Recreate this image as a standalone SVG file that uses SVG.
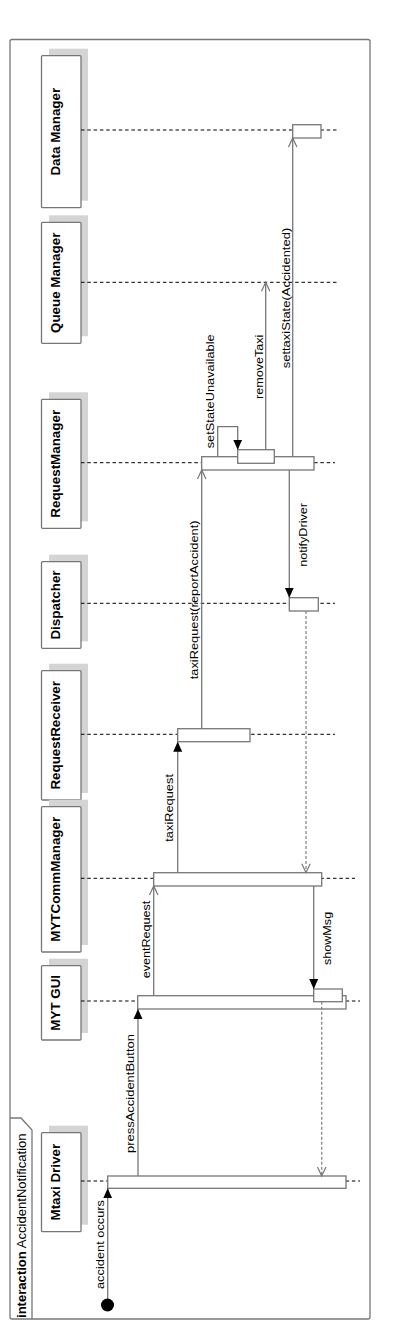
<svg xmlns="http://www.w3.org/2000/svg" width="410" height="1330" viewBox="0 0 410 1330">
<style>
  .frame{fill:#fff;stroke:#777;stroke-width:1.3}
  .head{fill:#fff;stroke:#777;stroke-width:1.3}
  .shadow{fill:#d4d4d4;stroke:none}
  .life{stroke:#000;stroke-width:1;stroke-dasharray:3.5,2.8;fill:none}
  .bar{fill:#fff;stroke:#777;stroke-width:1.3}
  .msg{fill:none;stroke:#777;stroke-width:1.3}
  .ret{fill:none;stroke:#888;stroke-width:1.3;stroke-dasharray:3,2}
  .hname{font-family:"Liberation Sans",Arial,sans-serif;font-size:13px;font-weight:bold;fill:#000;text-anchor:middle}
  .lbl{font-family:"Liberation Sans",Arial,sans-serif;font-size:11px;fill:#000}
  .tab{font-family:"Liberation Sans",Arial,sans-serif;font-size:12px;fill:#000}
</style>
<defs>
  <marker id="fillArrow" markerUnits="userSpaceOnUse" markerWidth="10" markerHeight="10" viewBox="0 0 10 10" refX="10" refY="5" orient="auto">
    <path d="M0,0.5 L10,5 L0,9.5 z" fill="#000"/>
  </marker>
  <marker id="openArrow" markerUnits="userSpaceOnUse" markerWidth="12" markerHeight="12" viewBox="0 0 12 12" refX="10" refY="6" orient="auto">
    <path d="M1,1.8 L10,6 L1,10.2" fill="none" stroke="#777" stroke-width="1.2"/>
  </marker>
</defs>

<g id="frame">
  <rect class="frame" x="10" y="39.5" width="360" height="1279.5" rx="2"/>
  <path d="M10,1118 L21,1118 L32,1130 L32,1319" fill="none" stroke="#777" stroke-width="1.3"/>
  <text class="tab" transform="translate(25.5,1318) rotate(-90) scale(1.09,1)"><tspan font-weight="bold">interaction</tspan> AccidentNotification</text>
</g>

<g id="node-datamanager">
  <rect class="shadow" x="49" y="48.7" width="39" height="152"/>
  <rect class="head" x="41.5" y="55.7" width="39.5" height="152" rx="1"/>
  <text class="hname" transform="translate(59.5,131.7) rotate(-90) scale(1.03,1)">Data Manager</text>
  <line class="life" x1="81" y1="130" x2="337" y2="130"/>
  <rect class="bar" x="292.7" y="124.7" width="28.3" height="13.3"/>
</g>

<g id="node-queuemanager">
  <rect class="shadow" x="49" y="215.3" width="39" height="121"/>
  <rect class="head" x="41.5" y="222.3" width="39.5" height="121" rx="1"/>
  <text class="hname" transform="translate(59.5,282.8) rotate(-90) scale(1.03,1)">Queue Manager</text>
  <line class="life" x1="81" y1="282.3" x2="337" y2="282.3"/>
</g>

<g id="node-requestmanager">
  <rect class="shadow" x="49" y="392.3" width="39" height="129"/>
  <rect class="head" x="41.5" y="399.3" width="39.5" height="129" rx="1"/>
  <text class="hname" transform="translate(59.5,463.8) rotate(-90) scale(1.03,1)">RequestManager</text>
  <line class="life" x1="81" y1="462.7" x2="335" y2="462.7"/>
  <rect class="bar" x="201.7" y="456.7" width="112.3" height="13.3"/>
  <rect class="bar" x="237.7" y="449.7" width="36.6" height="13.6"/>
</g>

<g id="node-dispatcher">
  <rect class="shadow" x="49" y="554.7" width="39" height="86.6"/>
  <rect class="head" x="41.5" y="561.7" width="39.5" height="86.6" rx="1"/>
  <text class="hname" transform="translate(59.5,605) rotate(-90) scale(1.03,1)">Dispatcher</text>
  <line class="life" x1="81" y1="603.3" x2="335" y2="603.3"/>
  <rect class="bar" x="289.3" y="597.7" width="29" height="13.3"/>
</g>

<g id="node-requestreceiver">
  <rect class="shadow" x="49" y="663.7" width="39" height="129.3"/>
  <rect class="head" x="41.5" y="670.7" width="39.5" height="129.3" rx="1"/>
  <text class="hname" transform="translate(59.5,735.3) rotate(-90) scale(1.03,1)">RequestReceiver</text>
  <line class="life" x1="81" y1="734.3" x2="335" y2="734.3"/>
  <rect class="bar" x="177.7" y="728.7" width="72.3" height="13"/>
</g>

<g id="node-mytcommmanager">
  <rect class="shadow" x="49" y="799.7" width="39" height="145.3"/>
  <rect class="head" x="41.5" y="806.7" width="39.5" height="145.3" rx="1"/>
  <text class="hname" transform="translate(59.5,879.3) rotate(-90) scale(1.03,1)">MYTCommManager</text>
  <line class="life" x1="81" y1="878.3" x2="355" y2="878.3"/>
  <rect class="bar" x="153.7" y="872.7" width="168" height="13.3"/>
</g>

<g id="node-mytgui">
  <rect class="shadow" x="49" y="958.7" width="39" height="74.3"/>
  <rect class="head" x="41.5" y="965.7" width="39.5" height="74.3" rx="1"/>
  <text class="hname" transform="translate(59.5,1002.8) rotate(-90) scale(1.03,1)">MYT GUI</text>
  <line class="life" x1="81" y1="1001" x2="360" y2="1001"/>
  <rect class="bar" x="137.7" y="995.7" width="208.3" height="13.3"/>
  <rect class="bar" x="313.7" y="989" width="28.6" height="12.7"/>
</g>

<g id="node-mtaxidriver">
  <rect class="shadow" x="49" y="1125.7" width="39" height="99"/>
  <rect class="head" x="41.5" y="1132.7" width="39.5" height="99" rx="1"/>
  <text class="hname" transform="translate(59.5,1182.2) rotate(-90) scale(1.03,1)">Mtaxi Driver</text>
  <line class="life" x1="81" y1="1181" x2="360" y2="1181"/>
  <rect class="bar" x="107.7" y="1176" width="238.3" height="12.3"/>
</g>

<g id="connectors">
  <path class="msg" d="M107.7,1305 L107.7,1188.3" marker-end="url(#fillArrow)"/>
  <circle cx="107.5" cy="1305" r="6.5" fill="#000"/>
  <text class="lbl" transform="translate(104,1289) rotate(-90) scale(1.165,1)">accident occurs</text>

  <path class="msg" d="M138,1176 L138,1009" marker-end="url(#fillArrow)"/>
  <text class="lbl" transform="translate(133.5,1153) rotate(-90) scale(1.18,1)">pressAccidentButton</text>

  <path class="msg" d="M153.7,995.7 L153.7,886" marker-end="url(#openArrow)"/>
  <text class="lbl" transform="translate(150,978.3) rotate(-90) scale(1.145,1)">eventRequest</text>

  <path class="msg" d="M177.7,872.7 L177.7,741.7" marker-end="url(#fillArrow)"/>
  <text class="lbl" transform="translate(172.5,841.7) rotate(-90) scale(1.165,1)">taxiRequest</text>

  <path class="msg" d="M201.7,728.7 L201.7,470" marker-end="url(#openArrow)"/>
  <text class="lbl" transform="translate(197.5,679.3) rotate(-90) scale(1.165,1)">taxiRequest(reportAccident)</text>

  <path class="msg" d="M217.7,456.7 L217.7,426.7 L237.7,426.7 L237.7,449.7" marker-end="url(#fillArrow)"/>
  <text class="lbl" transform="translate(214.3,448.3) rotate(-90) scale(1.165,1)">setStateUnavailable</text>

  <path class="msg" d="M265.7,449.7 L265.7,282.3" marker-end="url(#openArrow)"/>
  <text class="lbl" transform="translate(262.7,399) rotate(-90) scale(1.145,1)">removeTaxi</text>

  <path class="msg" d="M292.7,456.7 L292.7,138" marker-end="url(#openArrow)"/>
  <text class="lbl" transform="translate(289.5,368.3) rotate(-90) scale(1.18,1)">settaxiState(Accidented)</text>

  <path class="msg" d="M289.3,470 L289.3,597.7" marker-end="url(#fillArrow)"/>
  <text class="lbl" transform="translate(307,566.7) rotate(-90) scale(1.145,1)">notifyDriver</text>

  <path class="ret" d="M306,611 L306,872.7" marker-end="url(#openArrow)"/>

  <path class="msg" d="M313.7,886 L313.7,989" marker-end="url(#fillArrow)"/>
  <text class="lbl" transform="translate(330.5,965) rotate(-90) scale(1.145,1)">showMsg</text>

  <path class="ret" d="M321.7,1001.7 L321.7,1176" marker-end="url(#openArrow)"/>
</g>
</svg>
